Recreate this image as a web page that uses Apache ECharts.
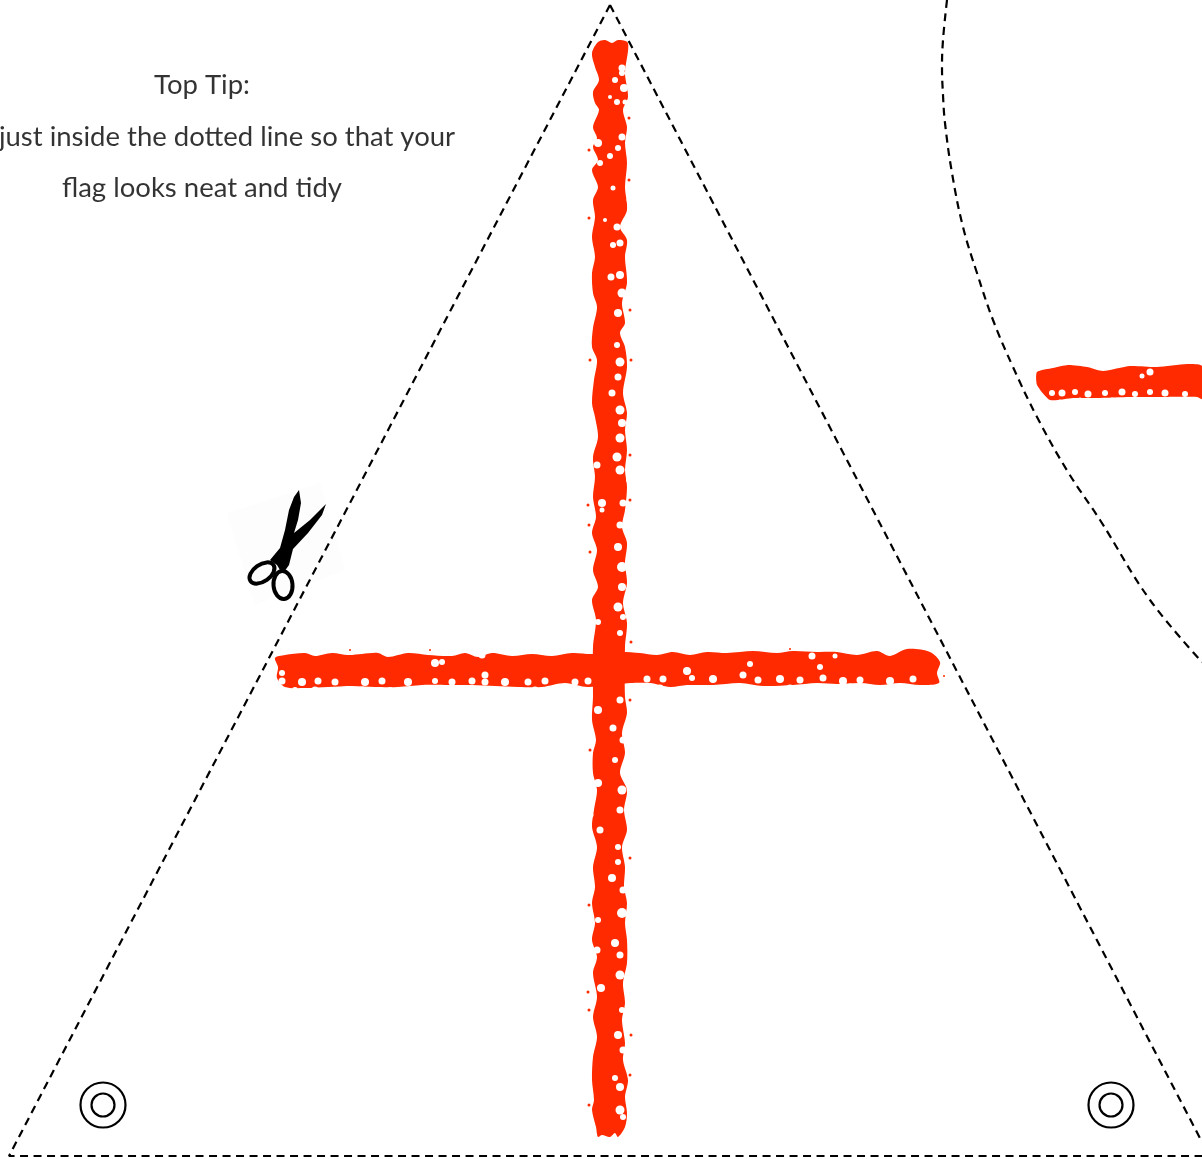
<!DOCTYPE html>
<html><head><meta charset="utf-8">
<style>html,body{margin:0;padding:0;background:#fff}#c{width:1202px;height:1159px}</style>
<script src="https://cdn.jsdelivr.net/npm/echarts@6/dist/echarts.min.js"></script>
</head><body><div id="c"></div>
<script>
const flagOutline = [[610,5],[9,1156],[1202,1156]];
const flagRightEdge = [[610,5],[1202,1142]];
const nextFlagCurve = [[947,0],[943,40],[942,67],[943,95],[945,123],[952,173],[963,227],[977,273],[993,320],[1013,367],[1037,417],[1068,472],[1100,520],[1150,600],[1202,662]];
const grommets = [[103,1105,45],[103,1105,23],[1111,1105,45],[1111,1105,23]];
const tipLines = ['Top Tip:','just inside the dotted line so that your','flag looks neat and tidy'];
const tipX = [202,227,202];
const tipY = [85,137,188];

const crossVertical = [[598,42],[592,53],[595,67],[599,80],[593,92],[595,103],[599,110],[593,127],[597,138],[593,147],[598,160],[592,170],[598,187],[593,200],[595,217],[592,237],[595,257],[592,273],[593,293],[597,307],[593,328],[592,347],[597,360],[594,380],[592,403],[595,417],[598,437],[593,457],[595,477],[593,497],[596,517],[592,533],[597,550],[593,570],[598,587],[592,600],[596,620],[593,647],[593,697],[592,720],[596,740],[593,753],[593,773],[597,790],[594,810],[592,827],[597,847],[593,867],[595,887],[592,903],[595,923],[592,940],[597,957],[593,973],[597,997],[593,1017],[597,1037],[593,1057],[592,1080],[594,1100],[592,1110],[596,1127],[598,1137],[602,1135],[610,1137],[615,1133],[618,1137],[625,1127],[627,1113],[625,1097],[628,1080],[623,1060],[625,1043],[622,1020],[625,1003],[623,983],[627,963],[627,940],[625,923],[627,903],[624,887],[625,867],[622,847],[627,830],[624,810],[627,790],[620,773],[625,753],[622,733],[627,713],[625,697],[625,647],[627,623],[623,603],[627,583],[625,563],[627,543],[622,527],[625,510],[627,487],[625,470],[627,450],[625,430],[627,413],[623,393],[627,367],[625,347],[620,333],[625,323],[622,303],[627,283],[625,257],[627,240],[620,227],[627,210],[625,187],[627,163],[625,143],[627,127],[623,110],[628,97],[625,73],[628,43],[618,40],[612,43],[605,40]];
const crossHorizontal = [[275,658],[285,655],[305,653],[315,656],[332,653],[348,655],[362,654],[378,653],[388,657],[408,653],[428,655],[452,656],[465,653],[478,657],[492,653],[512,656],[532,654],[552,656],[572,653],[592,654],[620,652],[640,653],[657,655],[673,652],[690,655],[707,652],[727,653],[753,651],[777,653],[793,651],[817,652],[837,652],[857,655],[877,651],[890,656],[907,649],[930,652],[940,662],[937,673],[939,683],[920,685],[900,683],[880,685],[860,683],[837,684],[817,683],[793,685],[763,686],[740,683],[713,685],[687,685],[670,687],[650,683],[630,683],[588,687],[565,683],[542,687],[518,687],[495,686],[472,685],[445,685],[422,685],[398,687],[375,687],[352,686],[328,687],[305,688],[285,687],[277,678],[278,667]];
const nextFlagBar = [[1037,372],[1053,368],[1068,365],[1087,367],[1103,371],[1130,366],[1157,367],[1187,364],[1202,366],[1202,399],[1197,397],[1163,397],[1130,397],[1097,398],[1073,398],[1050,400],[1037,385]];

const holes = [[622,68,7],[622,73,6],[615,80,6],[624,88,8],[610,97,4],[617,102,6],[625,102,5],[598,143,8],[618,148,6],[610,156,6],[600,163,6],[622,137,7],[613,188,5],[605,220,4],[617,227,7],[613,245,6],[620,243,7],[611,277,7],[620,275,8],[618,313,8],[622,293,9],
[617,345,6],[620,362,9],[618,377,7],[612,393,7],[620,410,9],[622,423,8],[620,438,9],[617,457,9],[620,470,9],[597,465,7],[602,503,8],[602,510,5],[623,503,7],[620,525,7],[618,547,8],[622,567,10],[622,587,8],[618,607,9],[623,617,6],[598,622,6],[620,633,6],
[620,700,7],[598,710,8],[613,728,7],[623,740,7],[615,760,6],[598,783,8],[622,790,9],[620,810,7],[600,830,7],[618,847,6],[618,862,6],[612,878,8],[623,890,7],[622,913,10],[598,920,6],
[615,943,8],[597,950,7],[620,955,7],[620,975,9],[601,988,8],[622,1010,6],[618,1035,8],[623,1050,7],[615,1078,6],[620,1087,8],[620,1110,9],[623,1117,6],
[282,673,6],[282,681,7],[302,682,8],[318,681,7],[335,682,7],[365,682,8],[382,681,7],[408,682,8],[435,681,6],[452,682,7],[472,681,7],[485,682,7],[505,682,8],[528,682,7],[545,681,7],[575,682,7],[588,681,7],[435,663,8],[442,662,6],[482,655,7],[485,675,7],
[647,679,7],[663,679,7],[687,671,8],[692,678,6],[713,679,8],[743,675,7],[758,680,7],[780,679,8],[800,680,7],[823,678,7],[843,681,8],[860,680,7],[890,681,8],[913,679,7],[820,667,6],[835,656,5],[812,656,7],[750,664,6],
[1052,393,6],[1062,393,7],[1075,392,6],[1088,394,7],[1105,393,6],[1122,392,7],[1135,394,6],[1150,392,6],[1165,393,7],[1185,394,6],[1150,372,7],[1142,376,5]];
const edgeNicks = [[630,85,5],[630,150,5],[629,200,5],[628,255,5],[629,300,6],[630,340,5],[630,380,6],[629,400,5],[630,445,5],[629,480,6],[629,520,5],[630,555,6],[630,595,5],[630,640,4],[629,725,6],[630,770,5],[630,800,5],[629,840,6],[630,875,5],[630,925,6],[630,965,5],[629,1000,6],[630,1065,5],[629,1100,6],
[591,75,5],[590,120,5],[590,178,4],[591,265,4],[591,320,4],[590,430,5],[591,490,4],[591,545,5],[590,612,5],[590,735,4],[591,815,5],[590,860,5],[591,965,5],[590,1030,5],[590,1095,4],
[295,690,6],[315,690,7],[342,691,6],[362,690,7],[390,690,6],[415,690,7],[458,689,6],[480,690,7],[512,690,6],[535,690,7],[560,690,6],[582,690,6],[640,687,6],[660,688,7],[700,688,6],[730,688,7],[755,689,6],[790,688,7],[810,688,6],[850,687,7],[875,688,6],[905,687,6],[925,688,6],
[300,651,4],[340,651,4],[398,651,4],[470,651,4],[540,652,4],[665,650,4],[742,649,4],[810,649,4],[860,651,4],
[1060,402,5],[1080,400,5],[1112,400,5],[1145,400,5],[1178,400,5]];
const flecks = [[589,150,3],[589,218,3],[590,360,3],[588,505,3],[589,525,3],[590,552,3],[631,360,3],[630,455,3],[590,750,3],[589,905,3],[588,992,3],[589,1010,3],[631,1035,3],[589,1105,3],[631,642,3],[629,118,3],[629,180,3],[630,310,3],[630,500,3],[630,700,3],[630,858,3],[630,1075,3],[350,650,2],[430,650,2],[600,688,3],[790,649,2],[944,676,2]];

const scissorBlades = [[299,490],[301,503],[298,520],[294,533],[310,520],[326,504],[322,515],[308,533],[293,549],[289,565],[284,572],[280,570],[277,565],[270,560],[280,548],[285,530],[289,510],[294,497]];
const scissorHandles = [[262,573,14,8.5,35],[283,585,9.5,14,5]];
const scissorPaper = [[227,513],[320,483],[345,570],[255,605]];

const RED = '#ff2a00';
function polygonSeries(points, fill, z, smooth){
  return {type:'custom',coordinateSystem:'cartesian2d',z,silent:true,clip:true,
    data:[0],encode:{x:[],y:[]},
    renderItem:(p,api)=>({type:'polygon',shape:{points:points.map(q=>api.coord(q)),smooth:smooth||0},style:{fill}})};
}
function dashed(data, z, smooth){
  return {type:'line',data,z,silent:true,showSymbol:false,symbol:'none',smooth:smooth?0.4:false,
    lineStyle:{color:'#000',width:2.2,type:[8,5.5]}};
}
const chart = echarts.init(document.getElementById('c'),null,{renderer:'canvas'});
chart.setOption({
  animation:false,backgroundColor:'#fff',
  grid:{left:0,right:0,top:0,bottom:0,containLabel:false},
  xAxis:{type:'value',min:0,max:1202,show:false},
  yAxis:{type:'value',min:0,max:1159,inverse:true,show:false},
  series:[
    polygonSeries(scissorPaper,'#fdfdfd',1),
    dashed(flagOutline,3),
    dashed(flagRightEdge,3),
    dashed(nextFlagCurve,3,true),
    polygonSeries(crossVertical,RED,4,0.3),
    polygonSeries(crossHorizontal,RED,4,0.3),
    polygonSeries(nextFlagBar,RED,4,0.2),
    {type:'scatter',data:holes,z:5,silent:true,symbolSize:v=>v[2],itemStyle:{color:'#fff',opacity:1}},
    {type:'scatter',data:edgeNicks,z:5,silent:true,symbolSize:v=>v[2],itemStyle:{color:'#fff',opacity:1}},
    {type:'scatter',data:flecks,z:5,silent:true,symbolSize:v=>v[2],itemStyle:{color:RED,opacity:1}},
    polygonSeries(scissorBlades,'#000',6),
    {type:'custom',coordinateSystem:'cartesian2d',z:6,silent:true,data:scissorHandles,encode:{x:0,y:1},
      renderItem:(p,api)=>{const c=api.coord([api.value(0),api.value(1)]);
        return {type:'ellipse',x:c[0],y:c[1],rotation:api.value(4)*Math.PI/180,
          shape:{cx:0,cy:0,rx:api.value(2),ry:api.value(3)},style:{fill:'none',stroke:'#000',lineWidth:4}};}},
    {type:'scatter',data:grommets,z:6,silent:true,symbolSize:v=>v[2],itemStyle:{color:'none',borderColor:'#000',borderWidth:2.2,opacity:1}},
    {type:'scatter',z:7,silent:true,symbolSize:0,clip:false,
      data:tipLines.map((t,i)=>({value:[tipX[i],tipY[i]],name:t})),
      label:{show:true,position:'inside',formatter:'{b}',color:'#000',fontFamily:'Lato,"Liberation Sans",sans-serif',fontWeight:400,fontSize:27.5,align:'center',verticalAlign:'middle'}}
  ]
});
</script></body></html>
